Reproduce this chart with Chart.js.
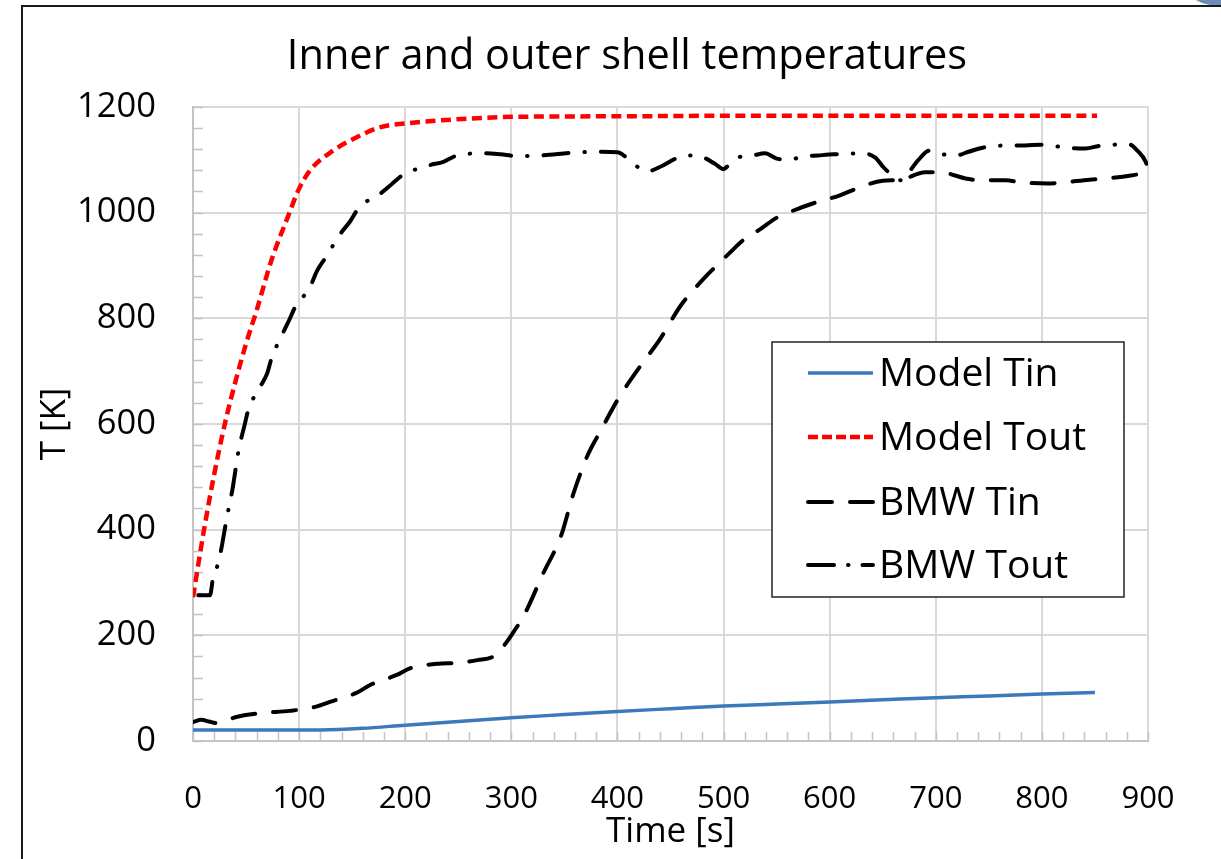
<!DOCTYPE html>
<html>
<head>
<meta charset="utf-8">
<title>Inner and outer shell temperatures</title>
<script src="https://cdn.jsdelivr.net/npm/chart.js@4.4.0/dist/chart.umd.min.js"></script>
<style>
  html, body { margin: 0; padding: 0; background: #fff; overflow: hidden; }
  #corner { position: absolute; left: 1186px; top: -34px; width: 70px; height: 40px; border-radius: 50%; background: #6d8cb6; }
  #frame { position: absolute; left: 21px; top: 5px; width: 1220px; height: 880px; border-left: 2px solid #1a1a1a; border-top: 2px solid #1a1a1a; }
  #wrap { position: absolute; left: 23px; top: 7px; width: 1198px; height: 852px; }
</style>
</head>
<body>
<div id="corner"></div>
<div id="frame"></div>
<div id="wrap"><canvas id="chart" width="1198" height="852"></canvas></div>

<script>
// ---- datos ----
const xTicks = [0, 900, 100, 20];     // min, max, paso, paso menor
const yTicks = [0, 1200, 200, 40];

// Model Tin (azul, continua)
const modelTinT = [0, 60, 120, 160, 200, 250, 300, 350, 400, 450, 500, 550, 600, 650, 700, 750, 800, 850];
const modelTinK = [21, 21, 21, 24, 30, 37, 44, 50, 56, 61, 66, 70, 74, 78, 82, 85, 89, 92];

// Model Tout (rojo, guiones cortos)
const modelToutT = [0, 10, 20, 30, 40, 50, 60, 74, 91, 99, 110, 132, 154, 176, 207, 254, 302, 400, 500, 600, 700, 852];
const modelToutK = [272, 395, 505, 600, 680, 752, 815, 910, 1000, 1041, 1079, 1117, 1142, 1161, 1170, 1177, 1181, 1182, 1183, 1183, 1183, 1183];

// BMW Tin (negro, guiones largos)
const bmwTinT = [0, 8, 15, 22, 30, 40, 65, 91, 116, 129, 154, 167, 192, 205, 230, 250, 268, 283, 292, 300,
  313, 330, 347, 358, 372, 385, 400, 420, 440, 460, 480, 506, 518, 535, 550, 565, 584, 609, 625, 650, 667,
  690, 704, 729, 741, 766, 780, 806, 820, 845, 859, 884, 900];
const bmwTinK = [36, 40, 37, 34, 38, 45, 53, 57, 65, 74, 91, 106, 125, 138, 146, 148, 153, 160, 178, 200,
  242, 317, 389, 465, 541, 590, 645, 705, 760, 825, 872, 924, 947, 969, 990, 1003, 1017, 1032, 1045, 1060, 1062,
  1076, 1076, 1064, 1061, 1061, 1057, 1055, 1057, 1062, 1064, 1070, 1076];

// BMW Tout (negro, raya-punto)
const bmwToutT = [5, 16, 19, 24, 27, 32, 37, 43, 49, 52, 63, 70, 74, 85, 91, 96, 110, 117, 125, 139, 148, 156,
  178, 188, 197, 222, 236, 249, 275, 290, 304, 329, 357, 383, 400, 408, 420, 428, 442, 456, 468, 480, 492,
  500, 504, 515, 527, 539, 550, 562, 575, 589, 604, 630, 643, 651, 667, 676, 683, 694, 707, 719, 731, 745,
  771, 784, 799, 826, 841, 854, 882, 890, 898, 900];
const bmwToutK = [276, 276, 310, 338, 367, 424, 474, 550, 601, 626, 669, 696, 724, 773, 798, 820, 858, 890, 915, 960, 983, 1008,
  1038, 1055, 1070, 1089, 1096, 1108, 1112, 1110, 1107, 1108, 1113, 1115, 1114, 1105, 1085, 1078, 1088, 1103, 1108, 1105, 1092,
  1082, 1088, 1105, 1108, 1112, 1102, 1100, 1106, 1108, 1110, 1112, 1104, 1085, 1061, 1080, 1098, 1117, 1110, 1108, 1115, 1123,
  1127, 1127, 1128, 1122, 1121, 1126, 1129, 1117, 1095, 1080];

const seriesNames = ['Model Tin', 'Model Tout', 'BMW Tin', 'BMW Tout'];

// pares {x, y}
function pares(ts, ks) {
    return ts.map((t, i) => ({ x: t, y: ks[i] }));
}

const FONT = "'Open Sans', 'Noto Sans', sans-serif";

// marcas menores hacia dentro del área
const minorTicks = {
    id: 'minorTicks',
    beforeDatasetsDraw(chart) {
        const { ctx, chartArea: a } = chart;
        const x = chart.scales.x, y = chart.scales.y;
        ctx.save();
        ctx.strokeStyle = '#c4c4c4';
        ctx.lineWidth = 1.5;
        ctx.beginPath();
        for (let v = xTicks[0]; v <= xTicks[1]; v += xTicks[3]) {
            const px = Math.round(x.getPixelForValue(v)) + 0.5;
            ctx.moveTo(px, a.bottom);
            ctx.lineTo(px, a.bottom - 9);
        }
        for (let v = yTicks[0]; v <= yTicks[1]; v += yTicks[3]) {
            const py = Math.round(y.getPixelForValue(v)) + 0.5;
            ctx.moveTo(a.left, py);
            ctx.lineTo(a.left + 10, py);
        }
        ctx.stroke();
        ctx.restore();
    }
};

// leyenda dibujada dentro del gráfico
const boxLegend = {
    id: 'boxLegend',
    afterDraw(chart) {
        const ctx = chart.ctx;
        const left = 749, top = 335, right = 1101, bottom = 590;
        ctx.save();
        ctx.fillStyle = '#fff';
        ctx.fillRect(left, top, right - left, bottom - top);
        ctx.strokeStyle = '#222';
        ctx.lineWidth = 1.5;
        ctx.strokeRect(left, top, right - left, bottom - top);

        const rows = [366, 430, 495, 558];
        const dashes = [[], [10, 4], [24, 18], [26, 14, 0.5, 14]];
        chart.data.datasets.forEach((ds, i) => {
            const yy = rows[i];
            ctx.beginPath();
            ctx.setLineDash(dashes[i]);
            ctx.lineCap = i >= 2 ? 'round' : 'butt';
            ctx.strokeStyle = ds.borderColor;
            ctx.lineWidth = ds.borderWidth;
            ctx.moveTo(785, yy);
            ctx.lineTo(850, yy);
            ctx.stroke();
            ctx.setLineDash([]);
            ctx.fillStyle = '#000';
            ctx.font = '39px ' + FONT;
            ctx.textBaseline = 'middle';
            ctx.textAlign = 'left';
            ctx.fillText(ds.label, 856, yy + 2);
        });
        ctx.restore();
    }
};

const ctx = document.getElementById('chart').getContext('2d');
new Chart(ctx, {
    type: 'line',
    data: {
        datasets: [{
            label: seriesNames[0],
            data: pares(modelTinT, modelTinK),
            borderColor: '#3b78bc',
            borderWidth: 3.5
        }, {
            label: seriesNames[1],
            data: pares(modelToutT, modelToutK),
            borderColor: '#ff0000',
            borderWidth: 4.5,
            borderDash: [10, 5.5]
        }, {
            label: seriesNames[2],
            data: pares(bmwTinT, bmwTinK),
            borderColor: '#000',
            borderWidth: 4,
            borderDash: [23, 18],
            borderCapStyle: 'round'
        }, {
            label: seriesNames[3],
            data: pares(bmwToutT, bmwToutK),
            borderColor: '#000',
            borderWidth: 4,
            borderDash: [25, 16, 0.5, 16],
            borderCapStyle: 'round'
        }]
    },
    options: {
        responsive: false,
        animation: false,
        devicePixelRatio: 1,
        elements: {
            point: { radius: 0 },
            line: { cubicInterpolationMode: 'monotone', fill: false }
        },
        layout: { padding: { left: 10, right: 0, top: 0, bottom: 0 } },
        plugins: {
            legend: { display: false },
            tooltip: { enabled: false },
            title: {
                display: true,
                text: 'Inner and outer shell temperatures',
                color: '#000',
                font: { family: FONT, size: 41.5, weight: 'normal' },
                padding: { top: 25, bottom: 25 }
            }
        },
        scales: {
            x: {
                type: 'linear',
                min: xTicks[0],
                max: xTicks[1],
                afterFit(scale) { scale.height = 118; },
                ticks: {
                    stepSize: xTicks[2],
                    color: '#000',
                    padding: 40,
                    maxRotation: 0,
                    font: { family: FONT, size: 31 }
                },
                grid: { color: '#d9d9d9', lineWidth: 2, drawTicks: false },
                border: { color: '#c4c4c4', width: 2 },
                title: {
                    display: true,
                    text: 'Time [s]',
                    color: '#000',
                    font: { family: FONT, size: 35 },
                    padding: { top: 0, bottom: 6 }
                }
            },
            y: {
                min: yTicks[0],
                max: yTicks[1],
                afterFit(scale) { scale.width = 160; },
                ticks: {
                    stepSize: yTicks[2],
                    color: '#000',
                    padding: 37,
                    font: { family: FONT, size: 34.5 },
                    callback: v => String(v)
                },
                grid: { color: '#d9d9d9', lineWidth: 2, drawTicks: false },
                border: { color: '#c4c4c4', width: 2 },
                title: {
                    display: true,
                    text: 'T [K]',
                    color: '#000',
                    font: { family: FONT, size: 35 },
                    padding: { top: 1, bottom: 0 }
                }
            },
            // eje vacío a la derecha: sólo reserva el margen derecho
            yMargen: {
                position: 'right',
                afterFit(scale) { scale.width = 73; },
                ticks: { display: false },
                grid: { display: false, drawTicks: false },
                border: { display: false }
            }
        }
    },
    plugins: [minorTicks, boxLegend]
});
</script>
</body>
</html>
